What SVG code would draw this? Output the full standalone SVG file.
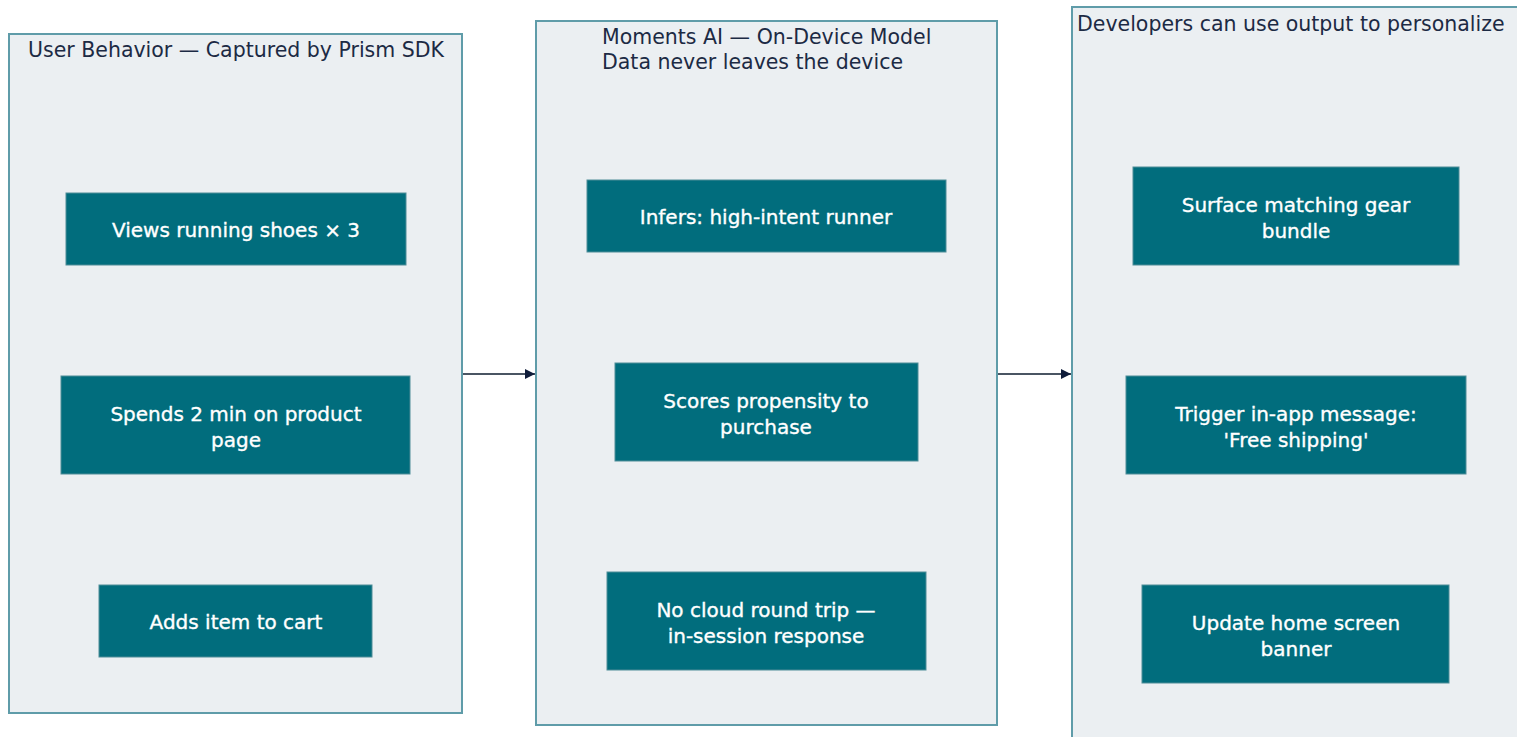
<svg xmlns="http://www.w3.org/2000/svg" width="1517" height="737" viewBox="0 0 1517 737">
<defs>
<style>
.cont{fill:#ebeff2;stroke:#5f9ca9;stroke-width:2}
.node{fill:#016d7d;stroke:#4e8d98;stroke-width:1}
.title{font-family:"DejaVu Sans",sans-serif;font-size:20.5px;fill:#1c2a44}
.lbl{font-family:"DejaVu Sans",sans-serif;font-size:20px;fill:#ffffff;stroke:#ffffff;stroke-width:0.35;text-anchor:middle}
.edge{stroke:#4a5563;stroke-width:2;fill:none}
</style>
<marker id="arr" viewBox="0 0 10 10" refX="10" refY="5" markerWidth="5" markerHeight="5" orient="auto" markerUnits="strokeWidth">
<path d="M0,0 L10,5 L0,10 z" fill="#0f1c3a"/>
</marker>
</defs>
<rect width="1517" height="737" fill="#ffffff"/>
<g id="group-behavior">
<rect class="cont" x="9" y="34" width="453" height="679"/>
<text class="title" x="236" y="57" text-anchor="middle">User Behavior — Captured by Prism SDK</text>
</g>
<g id="group-model">
<rect class="cont" x="536" y="21" width="461" height="704"/>
<text class="title" x="602" y="44">Moments AI — On-Device Model</text>
<text class="title" x="602" y="69">Data never leaves the device</text>
</g>
<g id="group-output">
<rect class="cont" x="1072" y="7" width="460" height="745"/>
<text class="title" x="1077" y="31">Developers can use output to personalize</text>
</g>
<g id="node-views">
<rect class="node" x="66" y="193" width="340" height="72"/>
<text class="lbl" x="236" y="237">Views running shoes × 3</text>
</g>
<g id="node-spends">
<rect class="node" x="61" y="376" width="349" height="98"/>
<text class="lbl" x="236" y="421">Spends 2 min on product</text>
<text class="lbl" x="236" y="447">page</text>
</g>
<g id="node-adds">
<rect class="node" x="99" y="585" width="273" height="72"/>
<text class="lbl" x="236" y="629">Adds item to cart</text>
</g>
<g id="node-infers">
<rect class="node" x="587" y="180" width="359" height="72"/>
<text class="lbl" x="766" y="224">Infers: high-intent runner</text>
</g>
<g id="node-scores">
<rect class="node" x="615" y="363" width="303" height="98"/>
<text class="lbl" x="766" y="408">Scores propensity to</text>
<text class="lbl" x="766" y="434">purchase</text>
</g>
<g id="node-nocloud">
<rect class="node" x="607" y="572" width="319" height="98"/>
<text class="lbl" x="766" y="617">No cloud round trip —</text>
<text class="lbl" x="766" y="643">in-session response</text>
</g>
<g id="node-surface">
<rect class="node" x="1133" y="167" width="326" height="98"/>
<text class="lbl" x="1296" y="212">Surface matching gear</text>
<text class="lbl" x="1296" y="238">bundle</text>
</g>
<g id="node-trigger">
<rect class="node" x="1126" y="376" width="340" height="98"/>
<text class="lbl" x="1296" y="421">Trigger in-app message:</text>
<text class="lbl" x="1296" y="447">'Free shipping'</text>
</g>
<g id="node-update">
<rect class="node" x="1142" y="585" width="307" height="98"/>
<text class="lbl" x="1296" y="630">Update home screen</text>
<text class="lbl" x="1296" y="656">banner</text>
</g>
<g id="connectors">
<line class="edge" x1="463" y1="374" x2="535" y2="374" marker-end="url(#arr)"/>
<line class="edge" x1="998" y1="374" x2="1071" y2="374" marker-end="url(#arr)"/>
</g>
</svg>
